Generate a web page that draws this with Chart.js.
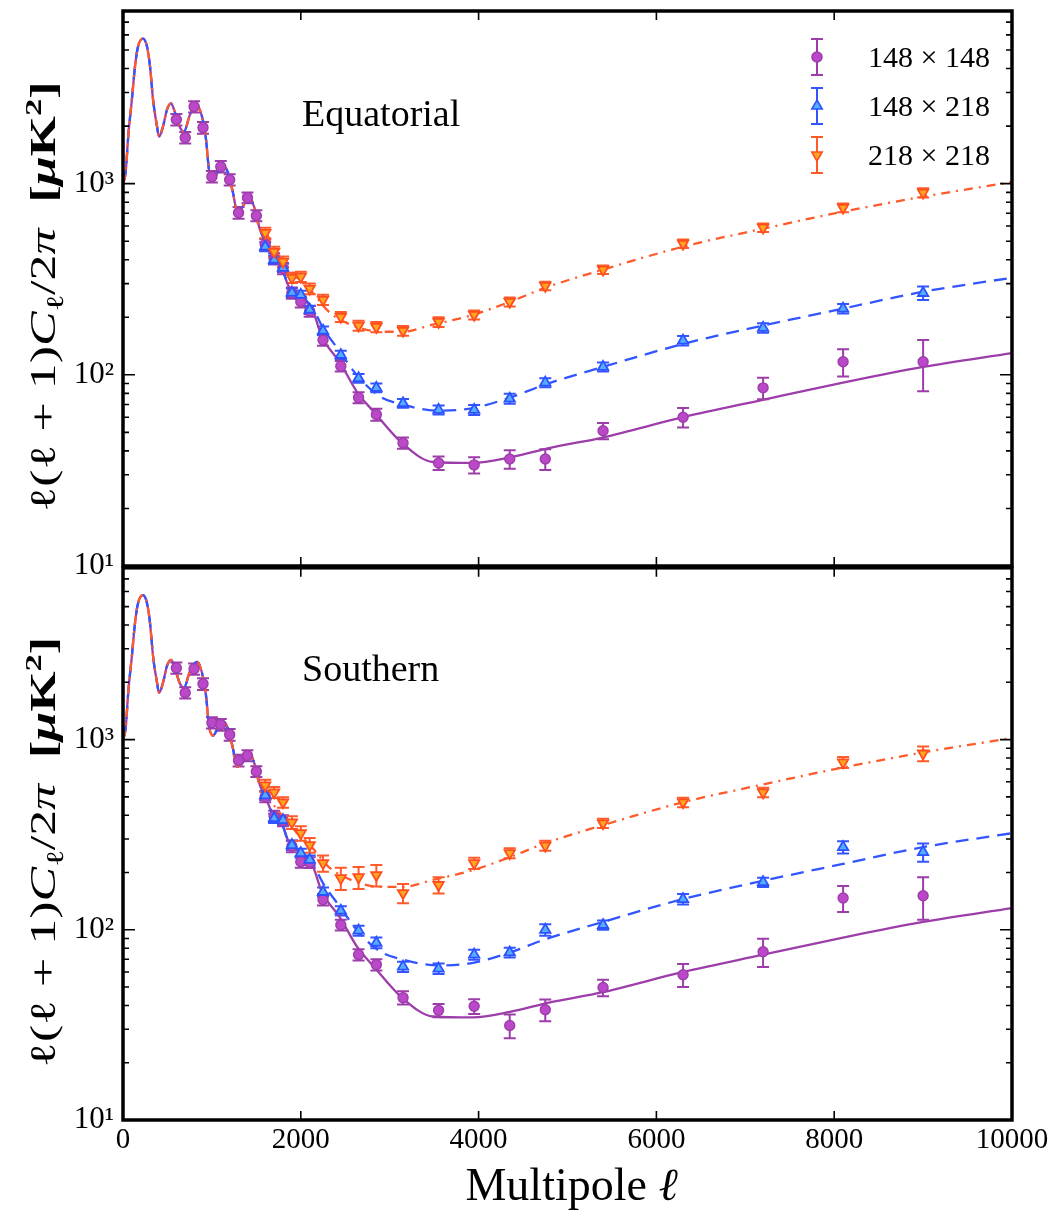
<!DOCTYPE html>
<html>
<head>
<meta charset="utf-8">
<script src="https://cdn.jsdelivr.net/npm/chart.js@4.4.0/dist/chart.umd.min.js"></script>
<style>
  html, body { margin: 0; padding: 0; background: #ffffff; }
  #wrap { position: relative; width: 1058px; height: 1213px; overflow: hidden; background: #fff; }
  #cTop { position: absolute; left: 0; top: 0; width: 1058px; height: 600px; }
  #cBot { position: absolute; left: 0; top: 560px; width: 1058px; height: 653px; }
</style>
</head>
<body>
<div id="wrap">
  <canvas id="cTop" width="1058" height="600"></canvas>
  <canvas id="cBot" width="1058" height="653"></canvas>
</div>
<script>
// ---------------- DATA ----------------
// Multipole bins
const ellLow  = [600, 700, 800, 900, 1000, 1100, 1200, 1300, 1400, 1500];
const ellHigh = [1600, 1700, 1800, 1900, 2000, 2100, 2250, 2450, 2650, 2850, 3150, 3550, 3950, 4350, 4750, 5400, 6300, 7200, 8100, 9000];
const ell148  = ellLow.concat(ellHigh);

// Equatorial field
const eq148x148    = [2164, 1741, 2529, 1964, 1088, 1227, 1049, 705, 845, 680, 480, 405, 360, 268, 241, 215, 152, 111, 76, 62, 44, 34.6, 33.8, 36.3, 36.3, 51, 60, 85.5, 117, 117];
const eq148x148Err = [150, 120, 170, 140, 75, 85, 70, 50, 55, 45, 32, 27, 24, 18, 16, 14, 10, 7, 5, 4.5, 3, 2.8, 3.3, 4, 4.5, 5, 7, 11, 19, 35];
const eq148x218    = [468, 400, 363, 269, 262, 219, 170, 127, 96, 85.5, 71, 65.6, 65.6, 75, 91, 110, 151, 176, 222, 268];
const eq148x218Err = [25, 20, 18, 14, 13, 11, 9, 6.5, 5, 4.5, 3.8, 3.5, 4, 4.5, 5, 6, 8.5, 10, 13, 22];
const eq218x218    = [553, 440, 391, 322, 326, 282, 247, 201, 181, 178, 170, 189, 206, 241, 292, 355, 485, 589, 748, 897];
const eq218x218Err = [35, 28, 25, 20, 20, 18, 15, 12, 11, 11, 10, 11, 11, 13, 15, 18, 25, 30, 40, 50];

// Southern field
const so148x148    = [2381, 1762, 2354, 1963, 1227, 1199, 1062, 776, 824, 680, 500, 395, 375, 275, 228, 226, 144, 106, 74, 65.6, 44, 37.7, 39.6, 31.4, 38, 49.7, 58, 76.7, 147, 151];
const so148x148Err = [160, 120, 160, 140, 85, 85, 75, 55, 55, 45, 32, 27, 25, 19, 16, 15, 10, 7, 5, 4.5, 3.5, 3, 3.5, 4.5, 5, 5, 8, 13, 23, 38];
const so148x218    = [509, 386, 377, 279, 253, 233, 158, 126, 99, 85.5, 64, 62.5, 74, 76, 100, 106, 145, 178, 272, 256];
const so148x218Err = [28, 22, 20, 16, 14, 13, 9, 7, 6, 5.5, 4, 4, 4.5, 4.5, 7, 6, 9, 10, 20, 28];
const so218x218    = [574, 528, 468, 367, 322, 279, 224, 187, 189, 194, 156, 172, 224, 253, 277, 363, 468, 528, 759, 845];
const so218x218Err = [40, 35, 30, 28, 28, 25, 22, 25, 25, 25, 18, 17, 15, 15, 17, 20, 27, 30, 50, 75];

// Best-fit model curves (shared acoustic-peak part + per-spectrum tails)
const modelLowEll = [2, 30, 60, 100, 135, 169, 225, 270, 304, 338, 383, 405, 450, 495, 540, 585, 641, 686, 754, 832, 889, 934, 967, 1012, 1069, 1125, 1181, 1237, 1282, 1339, 1417, 1474, 1541];
const modelLowD   = [1000, 1150, 1800, 2750, 4100, 5210, 5740, 5210, 4100, 2750, 1990, 1760, 1990, 2440, 2625, 2355, 1965, 1870, 2300, 2560, 2240, 1700, 1183, 1049, 1155, 1243, 1142, 897, 722, 748, 855, 759, 574];
const model148TailEll = [1600, 1687, 1789, 1850, 1900, 1991, 2050, 2137, 2238, 2441, 2632, 2835, 3138, 3487, 3937, 4353, 4803, 5399, 6299, 7199, 8099, 8999, 10000];
const model148TailD   = [500, 405, 360, 300, 272, 262, 245, 215, 158, 116, 81.5, 63, 44, 35, 34.6, 37, 41.5, 47, 60, 74, 91, 110, 130];
const modelCrossTailEll = [1600, 1687, 1789, 1850, 1900, 1991, 2050, 2137, 2250, 2441, 2643, 2891, 3138, 3543, 3937, 4353, 4747, 5399, 6299, 7199, 8099, 8999, 10000];
const modelCrossTailD   = [500, 405, 360, 300, 272, 262, 248, 222, 176, 132, 98, 77, 70, 65, 67, 76, 89, 110, 145, 181, 222, 272, 322];
const model218TailEll = [1600, 1687, 1800, 1950, 2100, 2329, 2632, 2925, 3138, 3487, 3937, 4353, 4747, 5399, 6299, 7199, 8099, 8999, 10000];
const model218TailD   = [560, 460, 395, 325, 280, 211, 178, 168, 168, 183, 206, 241, 285, 355, 468, 581, 713, 855, 1020];

// Axis ticks and labels
const xTickValues = [0, 2000, 4000, 6000, 8000, 10000];
const yTickValues = [10, 100, 1000];
const yTickLabels = ['10¹', '10²', '10³'];
const seriesNames = ['148 × 148', '148 × 218', '218 × 218'];
const panelNames  = ['Equatorial', 'Southern'];

// ---------------- STYLE ----------------
const SERIF = "'Liberation Serif', 'DejaVu Serif', serif";
const C = {
  purpleLine: '#9d3daa', purpleFill: '#bb48c9', purpleEdge: '#9d3daa',
  blueLine: '#3355ff', blueFill: '#55adff', blueEdge: '#2c52ff',
  orangeLine: '#ff5a2a', orangeFill: '#ffa51f', orangeEdge: '#ff4f1f'
};
Chart.defaults.font.family = SERIF;
Chart.defaults.color = '#000';

function toXY(xs, ys) { return xs.map((x, i) => ({ x: x, y: ys[i] })); }

const errorBarPlugin = {
  id: 'errorBars',
  beforeDatasetsDraw(chart) {
    const ctx = chart.ctx, xs = chart.scales.x, ys = chart.scales.y;
    chart.data.datasets.forEach(ds => {
      if (!ds.errors) return;
      ctx.save();
      ctx.strokeStyle = ds.errColor;
      ctx.lineWidth = 2;
      ds.data.forEach((p, i) => {
        const e = ds.errors[i];
        const px = xs.getPixelForValue(p.x);
        const yHi = ys.getPixelForValue(p.y + e);
        const yLo = ys.getPixelForValue(Math.max(p.y - e, 0.001));
        ctx.beginPath();
        ctx.moveTo(px, yLo); ctx.lineTo(px, yHi);
        ctx.moveTo(px - 6, yLo); ctx.lineTo(px + 6, yLo);
        ctx.moveTo(px - 6, yHi); ctx.lineTo(px + 6, yHi);
        ctx.stroke();
      });
      ctx.restore();
    });
  }
};

function drawMarker(ctx, style, rot, r, fill, edge, x, y) {
  ctx.save();
  ctx.fillStyle = fill; ctx.strokeStyle = edge; ctx.lineWidth = 1.6;
  Chart.helpers.drawPoint(ctx, { pointStyle: style, radius: r, rotation: rot, borderWidth: 1.6 }, x, y);
  ctx.restore();
}

function drawYTitle(ctx, cx, cy, target) {
  const s = 36;
  const segs = [
    { t: 'ℓ(ℓ + 1)', f: `${s}px ${SERIF}`, dy: 0 },
    { t: 'C', f: `italic ${s}px ${SERIF}`, dy: 0 },
    { t: 'ℓ', f: `${Math.round(s * 0.68)}px ${SERIF}`, dy: s * 0.22 },
    { t: '/2', f: `${s}px ${SERIF}`, dy: 0 },
    { t: 'π', f: `italic ${s}px ${SERIF}`, dy: 0 },
    { t: '  [', f: `bold ${s}px ${SERIF}`, dy: 0 },
    { t: 'μ', f: `bold italic ${s}px ${SERIF}`, dy: 0 },
    { t: 'K', f: `bold ${s}px ${SERIF}`, dy: 0 },
    { t: '2', f: `bold ${Math.round(s * 0.66)}px ${SERIF}`, dy: -s * 0.4 },
    { t: ']', f: `bold ${s}px ${SERIF}`, dy: 0 }
  ];
  ctx.save();
  let total = 0;
  segs.forEach(g => { ctx.font = g.f; g.w = ctx.measureText(g.t).width; total += g.w; });
  const k = target / total;
  ctx.translate(cx, cy);
  ctx.rotate(-Math.PI / 2);
  ctx.scale(k, 1);
  ctx.fillStyle = '#000';
  ctx.textBaseline = 'alphabetic';
  ctx.textAlign = 'left';
  let x = -total / 2;
  segs.forEach(g => { ctx.font = g.f; ctx.fillText(g.t, x, g.dy); x += g.w; });
  ctx.restore();
}

function drawXTitle(ctx, cx, baseY) {
  const a = 'Multipole ', b = 'ℓ';
  ctx.save();
  ctx.fillStyle = '#000';
  ctx.textBaseline = 'alphabetic';
  ctx.textAlign = 'left';
  ctx.font = `46px ${SERIF}`;
  const wa = ctx.measureText(a).width;
  ctx.font = `italic 46px ${SERIF}`;
  const wb = ctx.measureText(b).width;
  const x0 = cx - (wa + wb) / 2;
  ctx.font = `46px ${SERIF}`;
  ctx.fillText(a, x0, baseY);
  ctx.font = `italic 46px ${SERIF}`;
  ctx.fillText(b, x0 + wa, baseY);
  ctx.restore();
}

const decorPlugin = {
  id: 'decor',
  afterDraw(chart) {
    const o = chart.options.plugins.decor;
    const ctx = chart.ctx;
    const { left, right, top, bottom } = chart.chartArea;
    const xs = chart.scales.x, ys = chart.scales.y;
    ctx.save();
    ctx.strokeStyle = '#000';
    // inner ticks
    ctx.lineWidth = 1.6;
    ctx.beginPath();
    xTickValues.forEach(v => {
      const px = xs.getPixelForValue(v);
      ctx.moveTo(px, top); ctx.lineTo(px, top + 9);
      ctx.moveTo(px, bottom); ctx.lineTo(px, bottom - 9);
    });
    yTickValues.forEach(d => {
      for (let m = 1; m <= 9; m++) {
        const v = m * d;
        if (v < ys.min || v > ys.max) continue;
        const py = ys.getPixelForValue(v);
        const len = m === 1 ? 12 : 6;
        ctx.moveTo(left, py); ctx.lineTo(left + len, py);
        ctx.moveTo(right, py); ctx.lineTo(right - len, py);
      }
    });
    ctx.stroke();
    // frame
    ctx.lineWidth = 3.5;
    ctx.strokeRect(left, top, right - left, bottom - top);
    // panel name
    ctx.fillStyle = '#000';
    ctx.font = `38px ${SERIF}`;
    ctx.textAlign = 'left';
    ctx.textBaseline = 'alphabetic';
    ctx.fillText(o.name, 302, top + o.nameDy);
    // y title
    drawYTitle(ctx, 55, (top + bottom) / 2 + 8, 430);
    // x title
    if (o.xTitle) drawXTitle(ctx, (left + right) / 2 + 4, bottom + 80);
    // legend
    if (o.legend) {
      const rows = [
        { y: 57, name: seriesNames[0], style: 'circle', rot: 0, r: 5, fill: C.purpleFill, edge: C.purpleEdge, col: C.purpleLine },
        { y: 106, name: seriesNames[1], style: 'triangle', rot: 0, r: 6, fill: C.blueFill, edge: C.blueEdge, col: C.blueLine },
        { y: 155, name: seriesNames[2], style: 'triangle', rot: 180, r: 6, fill: C.orangeFill, edge: C.orangeEdge, col: C.orangeLine }
      ];
      const lx = 817;
      rows.forEach(rw => {
        ctx.strokeStyle = rw.col; ctx.lineWidth = 2;
        ctx.beginPath();
        ctx.moveTo(lx, rw.y - 18); ctx.lineTo(lx, rw.y + 18);
        ctx.moveTo(lx - 6, rw.y - 18); ctx.lineTo(lx + 6, rw.y - 18);
        ctx.moveTo(lx - 6, rw.y + 18); ctx.lineTo(lx + 6, rw.y + 18);
        ctx.stroke();
        drawMarker(ctx, rw.style, rw.rot, rw.r, rw.fill, rw.edge, lx, rw.y);
        ctx.fillStyle = '#000';
        ctx.font = `30px ${SERIF}`;
        ctx.textAlign = 'left';
        ctx.textBaseline = 'middle';
        ctx.fillText(rw.name, 868, rw.y + 2);
      });
    }
    ctx.restore();
  }
};

function buildPanel(canvasId, d, opt) {
  const lineBase = { showLine: true, pointRadius: 0, borderWidth: 2.3, cubicInterpolationMode: 'monotone', fill: false };
  const datasets = [
    { label: seriesNames[0], data: toXY(ell148, d.p148), errors: d.e148, errColor: C.purpleLine,
      pointStyle: 'circle', pointRadius: 5, pointBackgroundColor: C.purpleFill, pointBorderColor: C.purpleEdge, pointBorderWidth: 1.4, showLine: false, order: 2 },
    { label: seriesNames[1], data: toXY(ellHigh, d.p148218), errors: d.e148218, errColor: C.blueLine,
      pointStyle: 'triangle', pointRadius: 6, pointBackgroundColor: C.blueFill, pointBorderColor: C.blueEdge, pointBorderWidth: 1.8, showLine: false, order: 1 },
    { label: seriesNames[2], data: toXY(ellHigh, d.p218), errors: d.e218, errColor: C.orangeLine,
      pointStyle: 'triangle', pointRotation: 180, pointRadius: 6, pointBackgroundColor: C.orangeFill, pointBorderColor: C.orangeEdge, pointBorderWidth: 1.8, showLine: false, order: 0 },
    Object.assign({ label: 'model 218×218', data: toXY(modelLowEll.concat(model218TailEll), modelLowD.concat(model218TailD)),
      borderColor: C.orangeLine, borderDash: [9, 6, 2, 6], order: 3 }, lineBase),
    Object.assign({ label: 'model 148×218', data: toXY(modelLowEll.concat(modelCrossTailEll), modelLowD.concat(modelCrossTailD)),
      borderColor: C.blueLine, borderDash: [13, 8], order: 4 }, lineBase),
    Object.assign({ label: 'model 148×148', data: toXY(modelLowEll.concat(model148TailEll), modelLowD.concat(model148TailD)),
      borderColor: C.purpleLine, order: 5 }, lineBase)
  ];
  const xScale = {
    type: 'linear', min: 0, max: 10000, display: opt.showX,
    grid: { display: false, drawTicks: false }, border: { display: false },
    afterBuildTicks: s => { s.ticks = xTickValues.map(v => ({ value: v })); },
    afterFit: s => { if (opt.showX) { s.height = 93; } s.paddingLeft = 0; s.paddingRight = 0; },
    ticks: { callback: v => String(v), font: { size: 29, family: SERIF }, color: '#000', padding: 3, maxRotation: 0, autoSkip: false },
    title: { display: false }
  };
  const yScale = {
    type: 'logarithmic', min: 10, max: 8000, position: 'left',
    grid: { display: false, drawTicks: false }, border: { display: false },
    afterBuildTicks: s => { s.ticks = yTickValues.map(v => ({ value: v })); },
    afterFit: s => { s.width = 123; s.paddingTop = 0; s.paddingBottom = 0; },
    ticks: { callback: v => { const i = yTickValues.indexOf(v); return i >= 0 ? yTickLabels[i] : ''; },
             font: { size: 31, family: SERIF }, color: '#000', padding: 9, autoSkip: false }
  };
  return new Chart(document.getElementById(canvasId), {
    type: 'scatter',
    data: { datasets },
    options: {
      responsive: false, animation: false, events: [],
      layout: { padding: opt.padding },
      scales: { x: xScale, y: yScale },
      plugins: { legend: { display: false }, tooltip: { enabled: false },
                 decor: { name: opt.name, legend: opt.legend, nameDy: opt.nameDy, xTitle: opt.showX } }
    },
    plugins: [errorBarPlugin, decorPlugin]
  });
}

buildPanel('cTop',
  { p148: eq148x148, e148: eq148x148Err, p148218: eq148x218, e148218: eq148x218Err, p218: eq218x218, e218: eq218x218Err },
  { name: panelNames[0], legend: true, showX: false, nameDy: 115, padding: { left: 0, top: 11, right: 46, bottom: 34 } });

buildPanel('cBot',
  { p148: so148x148, e148: so148x148Err, p148218: so148x218, e148218: so148x218Err, p218: so218x218, e218: so218x218Err },
  { name: panelNames[1], legend: false, showX: true, nameDy: 113, padding: { left: 0, top: 7, right: 46, bottom: 0 } });
</script>
</body>
</html>
